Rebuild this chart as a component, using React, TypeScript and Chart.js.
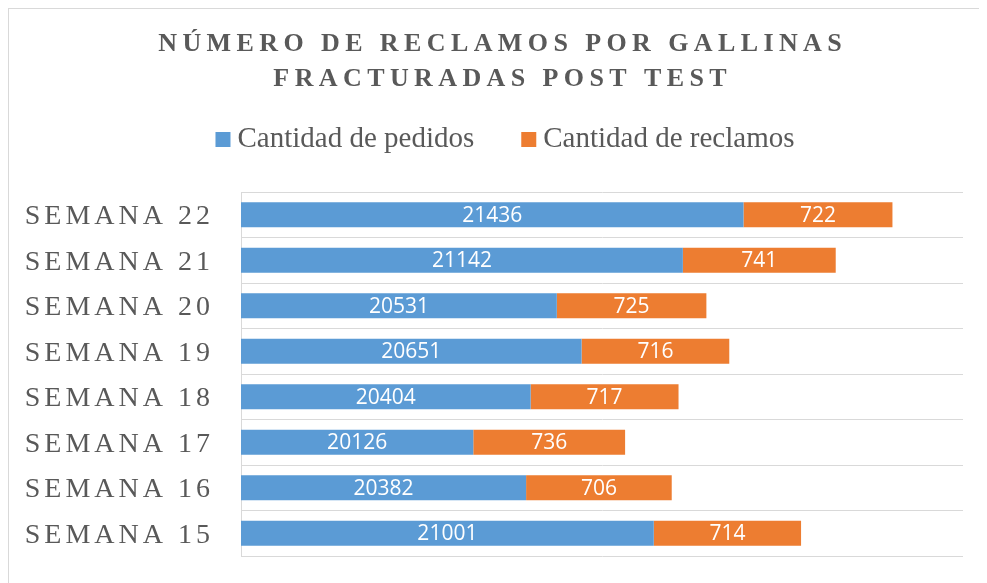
import React, { useEffect, useRef } from "react";
import { Chart, registerables } from "chart.js";

Chart.register(...registerables);

const WEEKS = ["SEMANA 15", "SEMANA 16", "SEMANA 17", "SEMANA 18", "SEMANA 19", "SEMANA 20", "SEMANA 21", "SEMANA 22"];
const PEDIDOS = [21001, 20382, 20126, 20404, 20651, 20531, 21142, 21436];
const RECLAMOS = [714, 706, 736, 717, 716, 725, 741, 722];
const SERIES_NAMES = ["Cantidad de pedidos", "Cantidad de reclamos"];
const TITLE_LINES = ["NÚMERO DE RECLAMOS POR GALLINAS", "FRACTURADAS POST TEST"];
const X_MIN = 19000;
const X_MAX = 22500;

const BLUE = "#5B9BD5";
const ORANGE = "#ED7D31";
const TEXT = "#595959";
const SERIF = "'Liberation Serif', 'Times New Roman', serif";

const W = 978;
const H = 574;

const spacingPlugin = {
  id: "spacing",
  beforeDraw(chart: any) {
    chart.ctx.letterSpacing = "4px";
  },
  beforeDatasetsDraw(chart: any) {
    chart.ctx.letterSpacing = "0px";
  },
};

const labelsPlugin = {
  id: "valueLabels",
  afterDatasetsDraw(chart: any) {
    const ctx = chart.ctx;
    ctx.save();
    ctx.letterSpacing = "0px";
    ctx.fillStyle = "#ffffff";
    ctx.font = "21px 'Open Sans', sans-serif";
    ctx.textAlign = "center";
    ctx.textBaseline = "middle";
    chart.data.datasets.forEach((ds: any, di: number) => {
      const meta = chart.getDatasetMeta(di);
      meta.data.forEach((el: any, i: number) => {
        const p = el.getProps(["x", "y", "base"], true);
        const left = Math.max(Math.min(p.base, p.x), chart.chartArea.left);
        const right = Math.max(p.base, p.x);
        ctx.fillText(String(ds.data[i]), (left + right) / 2, p.y + 1);
      });
    });
    ctx.restore();
  },
};

const headerPlugin = {
  id: "header",
  afterDraw(chart: any) {
    const ctx = chart.ctx;
    ctx.save();
    const tsp = 5.4;
    ctx.letterSpacing = tsp + "px";
    ctx.font = "bold 26px " + SERIF;
    ctx.fillStyle = TEXT;
    ctx.textAlign = "left";
    ctx.textBaseline = "alphabetic";
    const cx = 491;
    const baselines = [42, 77];
    TITLE_LINES.forEach((line, i) => {
      const w = ctx.measureText(line).width;
      ctx.fillText(line, cx - (w - tsp) / 2, baselines[i]);
    });
    ctx.letterSpacing = "0px";
    ctx.font = "29px " + SERIF;
    const box = 15;
    const gap = 7;
    const itemGap = 47;
    const colors = [BLUE, ORANGE];
    const widths = SERIES_NAMES.map((n) => ctx.measureText(n).width);
    const total = widths.reduce((a, b) => a + b, 0) + SERIES_NAMES.length * (box + gap) + itemGap * (SERIES_NAMES.length - 1);
    let x = 496 - total / 2;
    const base = 138;
    SERIES_NAMES.forEach((n, i) => {
      ctx.fillStyle = colors[i];
      ctx.fillRect(x, base - box, box, box);
      ctx.fillStyle = TEXT;
      ctx.fillText(n, x + box + gap, base);
      x += box + gap + widths[i] + itemGap;
    });
    ctx.restore();
  },
};

export default function App() {
  const ref = useRef<HTMLCanvasElement | null>(null);
  useEffect(() => {
    if (!ref.current) return;
    const chart = new Chart(ref.current, {
      type: "bar",
      data: {
        labels: WEEKS,
        datasets: [
          {
            label: SERIES_NAMES[0],
            data: PEDIDOS,
            backgroundColor: BLUE,
            base: X_MIN,
            barPercentage: 0.55,
            categoryPercentage: 1,
          } as any,
          {
            label: SERIES_NAMES[1],
            data: RECLAMOS,
            backgroundColor: ORANGE,
            barPercentage: 0.55,
            categoryPercentage: 1,
          },
        ],
      },
      options: {
        indexAxis: "y",
        responsive: false,
        animation: false,
        layout: { padding: { top: 183, right: 24, bottom: 27, left: 0 } },
        plugins: {
          legend: { display: false },
          title: { display: false },
          tooltip: { enabled: false },
        },
        scales: {
          x: {
            stacked: true,
            min: X_MIN,
            max: X_MAX,
            display: false,
          },
          y: {
            stacked: true,
            reverse: true,
            afterFit: (scale: any) => {
              scale.width = 232;
              scale.paddingTop = 0;
              scale.paddingBottom = 0;
            },
            grid: {
              color: "#d9d9d9",
              lineWidth: 1,
              drawTicks: false,
              offset: true,
            },
            border: { display: true, color: "#d9d9d9", width: 1 },
            ticks: {
              color: TEXT,
              padding: 27,
              labelOffset: 2,
              font: { family: SERIF, size: 28 },
            },
          },
        },
      },
      plugins: [spacingPlugin, labelsPlugin, headerPlugin],
    });
    return () => chart.destroy();
  }, []);

  return (
    <div
      style={{
        width: 979,
        height: 575,
        borderTop: "1px solid #d9d9d9",
        borderLeft: "1px solid #d9d9d9",
        boxSizing: "border-box",
        overflow: "hidden",
        background: "#fff",
      }}
    >
      <canvas ref={ref} width={W} height={H} style={{ display: "block" }} />
    </div>
  );
}
